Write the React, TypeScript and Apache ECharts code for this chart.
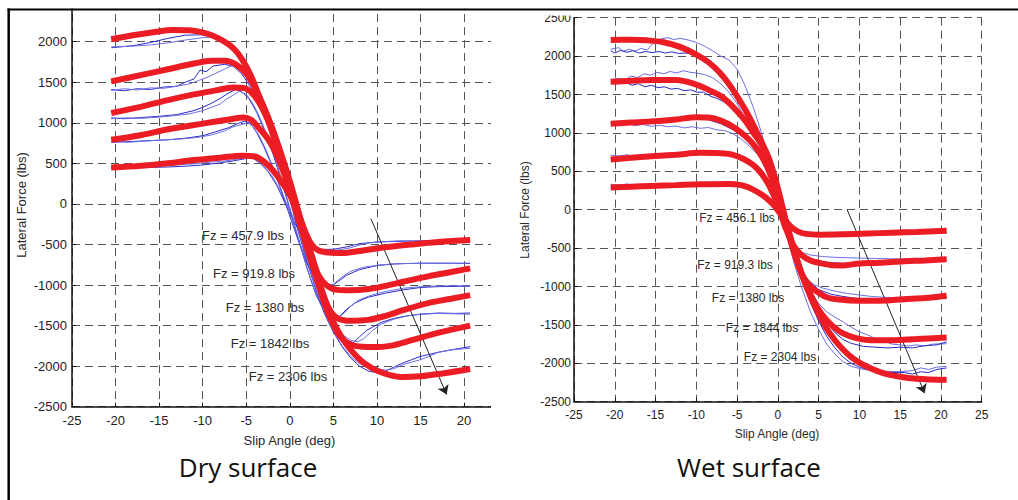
import React, { useEffect, useRef } from "react";
import * as echarts from "echarts";

// ---------- Axis ticks ----------
const xTicks = [-25, -20, -15, -10, -5, 0, 5, 10, 15, 20, 25];
const yTicks = [-2500, -2000, -1500, -1000, -500, 0, 500, 1000, 1500, 2000, 2500];

// ---------- Dry surface: fitted model curves (slip angle deg, lateral force lbs) ----------
const dryFit458 = [[-20.5,450],[-17,470],[-14,500],[-11,540],[-8,570],[-5.5,595],[-4,585],[-3,525],[-2,420],[-1,280],[0,110],[1,-130],[1.8,-350],[2.5,-500],[3.3,-575],[4.5,-600],[6,-605],[8,-580],[11,-535],[14,-500],[17,-470],[20.7,-445]];
const dryFit920 = [[-20.5,790],[-17,850],[-14,920],[-10,990],[-7,1040],[-5.3,1065],[-4.5,1040],[-3.7,955],[-2.5,800],[-1.5,600],[-0.5,330],[0.5,20],[1.5,-290],[2.5,-630],[3.3,-880],[4.3,-1010],[5.5,-1060],[7,-1065],[9,-1050],[11,-1010],[13,-960],[16,-890],[18.5,-840],[20.7,-795]];
const dryFit1380 = [[-20.5,1120],[-17,1200],[-14,1280],[-11,1350],[-8.5,1400],[-6.5,1435],[-5.3,1430],[-4.5,1385],[-3.5,1245],[-2.5,1030],[-1.5,760],[-0.5,420],[0.5,70],[1.5,-290],[2.5,-650],[3.5,-1000],[4.5,-1290],[5.5,-1410],[7,-1440],[9,-1430],[11,-1380],[13,-1310],[16,-1220],[18.5,-1170],[20.7,-1125]];
const dryFit1842 = [[-20.5,1510],[-17,1590],[-14,1660],[-11,1730],[-9,1765],[-7.5,1765],[-6.2,1720],[-5,1605],[-4,1430],[-3,1200],[-2,930],[-1,620],[0,280],[1,-100],[2,-490],[3,-880],[4,-1230],[5,-1490],[6,-1660],[7.5,-1750],[9.5,-1765],[11.5,-1750],[14,-1680],[17,-1590],[20.7,-1500]];
const dryFit2306 = [[-20.5,2030],[-18,2080],[-15.5,2120],[-13.5,2145],[-11.5,2140],[-9.5,2100],[-8,2030],[-6.5,1920],[-5.5,1785],[-4.5,1590],[-3.5,1320],[-2.5,1030],[-1.5,710],[-0.5,340],[0.5,-20],[1.5,-370],[2.5,-720],[3.5,-1050],[4.5,-1330],[5.5,-1560],[6.5,-1730],[7.5,-1860],[8.5,-1960],[10,-2055],[11.5,-2110],[13,-2135],[15,-2125],[17.5,-2090],[20.7,-2035]];

// ---------- Dry surface: measured test runs ----------
const dryTest458a = [[-20.5,440],[-18,445],[-16,450],[-14,455],[-12,465],[-10,480],[-8,505],[-6.5,530],[-5,560],[-4.2,560],[-3.5,510],[-2.5,400],[-1.5,230],[-0.5,0],[0.5,-220],[1.5,-420],[2.5,-530],[3.5,-560],[5,-560],[6.5,-530],[8,-490],[10,-470],[13,-460],[16,-455],[20.7,-450]];
const dryTest458b = [[-20.5,450],[-18,455],[-15.5,465],[-13,480],[-11,495],[-9,515],[-7.5,530],[-6,550],[-5,570],[-4.3,575],[-3.7,540],[-3,470],[-2,340],[-1,150],[0,-80],[1,-300],[2,-470],[3,-550],[4,-575],[5.5,-570],[7,-540],[8.5,-490],[10,-470],[12.5,-455],[15,-455],[18,-450],[20.7,-455]];
const dryTest920a = [[-20.5,760],[-18,770],[-16,780],[-14,790],[-12,810],[-10,840],[-8.5,890],[-7,940],[-6,990],[-5.2,1020],[-4.5,990],[-3.8,880],[-3,710],[-2,460],[-1,170],[0,-150],[1,-460],[2,-740],[3,-930],[4,-1000],[4.8,-1010],[5.5,-960],[6.5,-880],[8,-810],[10,-760],[12,-740],[15,-730],[18,-730],[20.7,-735]];
const dryTest920b = [[-20.5,770],[-18.5,760],[-16.5,775],[-14.5,790],[-12.5,800],[-10.5,820],[-9,850],[-7.5,900],[-6.5,950],[-5.5,980],[-4.8,1000],[-4.2,950],[-3.5,840],[-2.7,660],[-1.8,420],[-0.8,120],[0.2,-190],[1.2,-500],[2.2,-780],[3.2,-950],[4.2,-1000],[5,-990],[6,-900],[7,-830],[8.5,-780],[10.5,-750],[13,-735],[16,-735],[20.7,-730]];
const dryTest1380a = [[-20.5,1060],[-19,1050],[-17,1065],[-15,1080],[-13,1100],[-11,1150],[-10,1190],[-9,1240],[-8,1300],[-7,1370],[-6.2,1410],[-5.5,1380],[-4.7,1300],[-3.8,1130],[-3,930],[-2,640],[-1,300],[0,-60],[1,-440],[2,-800],[3,-1120],[4,-1330],[5,-1400],[5.8,-1380],[6.5,-1300],[7.5,-1220],[9,-1150],[11,-1100],[13,-1060],[15,-1030],[17,-1020],[20.7,-1015]];
const dryTest1380b = [[-20.5,1050],[-19,1060],[-17,1055],[-15,1070],[-13,1090],[-11.5,1110],[-10,1150],[-9,1190],[-8,1230],[-7.3,1290],[-6.5,1340],[-5.8,1390],[-5,1350],[-4.3,1250],[-3.5,1080],[-2.5,820],[-1.5,500],[-0.5,140],[0.5,-240],[1.5,-620],[2.5,-960],[3.5,-1230],[4.5,-1380],[5.3,-1420],[6,-1370],[7,-1260],[8,-1180],[9.5,-1120],[11,-1080],[13,-1040],[15,-1020],[17.5,-1010],[20.7,-1010]];
const dryTest1842a = [[-20.5,1410],[-19,1395],[-17.5,1420],[-16,1410],[-14.5,1440],[-13,1450],[-12,1500],[-11,1540],[-10.3,1650],[-9.6,1630],[-8.8,1700],[-7.5,1720],[-6.5,1700],[-5.5,1600],[-4.5,1440],[-3.5,1230],[-2.5,960],[-1.5,650],[-0.5,290],[0.5,-100],[1.5,-480],[2.5,-840],[3.5,-1150],[4.5,-1400],[5.5,-1570],[6.5,-1680],[7.3,-1710],[8,-1640],[8.8,-1560],[9.5,-1520],[10.5,-1460],[12,-1410],[13.5,-1380],[15,-1360],[17,-1345],[19,-1350],[20.7,-1345]];
const dryTest1842b = [[-20.5,1400],[-19,1420],[-17.5,1405],[-16,1430],[-14.5,1425],[-13,1450],[-11.5,1480],[-10.5,1520],[-9.5,1560],[-8.5,1610],[-7.5,1660],[-6.8,1700],[-6,1690],[-5,1570],[-4,1390],[-3,1160],[-2,880],[-1,560],[0,190],[1,-200],[2,-590],[3,-940],[4,-1240],[5,-1460],[6,-1610],[7,-1680],[7.8,-1700],[8.5,-1660],[9.5,-1560],[10.5,-1480],[12,-1420],[13.5,-1380],[15,-1360],[17,-1350],[19,-1355],[20.7,-1360]];
const dryTest2306a = [[-20.5,1925],[-18,1950],[-16,1990],[-14,2040],[-12,2080],[-10,2085],[-8.5,2050],[-7,1950],[-6,1830],[-5,1650],[-4,1430],[-3,1150],[-2,820],[-1,450],[0,60],[1,-350],[2,-720],[3,-1060],[4,-1360],[5,-1580],[6,-1760],[7,-1900],[8,-2000],[9,-2060],[10,-2080],[11,-2060],[12,-2010],[13,-1960],[14,-1920],[15,-1880],[17,-1830],[19,-1790],[20.7,-1760]];
const dryTest2306b = [[-20.5,1935],[-18,1945],[-16,1960],[-14,1985],[-12,2020],[-10,2050],[-8.5,2060],[-7,1990],[-6,1870],[-5,1690],[-4,1460],[-3,1180],[-2,850],[-1,480],[0,90],[1,-320],[2,-700],[3,-1040],[4,-1340],[5,-1570],[6,-1750],[7,-1880],[8,-1970],[9,-2010],[10,-2030],[11,-2050],[12,-2030],[13,-1980],[14,-1950],[15,-1920],[16,-1880],[17,-1830],[18.5,-1800],[20.7,-1780]];

// ---------- Wet surface: fitted model curves ----------
const wetFit456 = [[-20.5,290],[-18,300],[-15.5,310],[-12.5,320],[-9.5,330],[-6,335],[-4.5,320],[-3.5,285],[-2.5,230],[-1.5,160],[-0.5,60],[0.5,-80],[1.5,-210],[2.5,-285],[3.5,-315],[5,-325],[8,-320],[11,-310],[14,-300],[17,-290],[20.7,-275]];
const wetFit919 = [[-20.5,655],[-18,675],[-15.5,695],[-12.5,715],[-9.5,740],[-7,735],[-5.5,715],[-4.2,660],[-3,580],[-2,470],[-1,300],[0,60],[1,-250],[2,-480],[3,-600],[4,-660],[5,-690],[6.5,-720],[8,-725],[10,-700],[12.5,-690],[15.5,-670],[18,-660],[20.7,-645]];
const wetFit1380 = [[-20.5,1120],[-18,1135],[-15.5,1150],[-12.5,1175],[-10,1205],[-8.5,1200],[-7,1160],[-5.5,1080],[-4,960],[-3,850],[-2,700],[-1,480],[0,180],[1,-200],[2,-560],[3,-850],[4,-1000],[5,-1080],[6,-1140],[7.5,-1170],[10,-1185],[12.5,-1185],[15.5,-1165],[18,-1150],[20.7,-1120]];
const wetFit1844 = [[-20.5,1665],[-18,1680],[-15.5,1690],[-12.5,1690],[-10,1630],[-8.5,1560],[-7,1480],[-5.5,1340],[-4,1160],[-3,1000],[-2,850],[-1,600],[0,250],[1,-170],[2,-540],[3,-860],[4,-1100],[5,-1300],[6,-1440],[7,-1540],[8,-1610],[9.5,-1670],[11.5,-1700],[14,-1700],[17,-1685],[20.7,-1665]];
const wetFit2304 = [[-20.5,2210],[-18,2212],[-16,2205],[-14,2180],[-12,2120],[-10,2020],[-8.5,1920],[-7,1770],[-5.5,1560],[-4,1300],[-3,1100],[-2,880],[-1,640],[0,280],[1,-150],[2,-520],[3,-860],[4,-1130],[5,-1350],[6,-1550],[7,-1700],[8,-1820],[9,-1920],[10,-1990],[11.5,-2070],[13,-2130],[15,-2175],[17,-2200],[20.7,-2215]];

// ---------- Wet surface: measured test runs ----------
const wetTest456a = [[-20.5,330],[-19.5,320],[-18.5,335],[-17,320],[-15.5,330],[-14,320],[-12.5,335],[-11,325],[-9.5,335],[-8,330],[-6.5,335],[-5,325],[-4,300],[-3,250],[-2,180],[-1,90],[0,-30],[1,-170],[2,-260],[3,-300],[4.5,-310],[6,-315],[9,-310],[12,-305],[15,-300],[18,-295],[20.7,-290]];
const wetTest456b = [[-20.5,285],[-17,300],[-14,310],[-11,320],[-8,330],[-6,330],[-4.5,315],[-3.5,280],[-2.5,225],[-1.5,150],[-0.5,50],[0.5,-90],[1.5,-220],[2.5,-290],[3.5,-315],[5,-320],[8,-315],[11,-305],[14,-300],[17,-295],[20.7,-300]];
const wetTest919a = [[-20.5,710],[-19.5,700],[-18.5,715],[-17.5,695],[-16.5,710],[-15.5,700],[-14.5,720],[-13,705],[-11.5,725],[-10,715],[-8.5,730],[-7,715],[-5.5,700],[-4.2,650],[-3,570],[-2,450],[-1,270],[0,20],[1,-260],[2,-470],[3,-560],[4,-590],[5.5,-610],[7,-620],[8.5,-625],[10,-630],[12,-635],[14,-640],[16,-640],[18,-645],[20.7,-645]];
const wetTest919b = [[-20.5,665],[-18,680],[-15.5,690],[-12.5,710],[-9.5,735],[-7,730],[-5.5,705],[-4.2,650],[-3,570],[-2,460],[-1,290],[0,50],[1,-240],[2,-470],[3,-580],[4,-640],[5,-670],[6.5,-690],[8,-700],[10,-690],[12.5,-680],[15.5,-665],[18,-655],[20.7,-650]];
const wetTest1380a = [[-20.5,1130],[-19.5,1110],[-18.5,1125],[-17.5,1095],[-16.5,1110],[-15.5,1085],[-14.5,1100],[-13.5,1080],[-12.5,1090],[-11.5,1065],[-10.5,1080],[-9.5,1060],[-8.5,1070],[-7.5,1040],[-6.5,1030],[-5.5,990],[-4.5,920],[-3.5,830],[-2.5,720],[-1.5,580],[-0.5,340],[0.5,0],[1.5,-380],[2.5,-700],[3.5,-900],[4.5,-980],[5.5,-1020],[7,-1060],[8.5,-1090],[10,-1110],[11.5,-1130],[13,-1140],[14.5,-1145],[16,-1135],[17.5,-1150],[19,-1140],[20.7,-1160]];
const wetTest1380b = [[-20.5,1120],[-19,1130],[-17.5,1140],[-16,1150],[-14.5,1160],[-13,1175],[-11.5,1185],[-10,1190],[-8.5,1170],[-7,1120],[-5.5,1040],[-4,930],[-3,830],[-2,690],[-1,470],[0,170],[1,-200],[2,-550],[3,-820],[4,-950],[5,-1040],[6.5,-1100],[8,-1130],[10,-1160],[12,-1170],[14,-1160],[16,-1155],[18,-1165],[20.7,-1140]];
const wetTest1844a = [[-20.5,1690],[-19.5,1710],[-18.7,1690],[-18,1740],[-17.2,1720],[-16.4,1770],[-15.6,1750],[-14.8,1790],[-14,1770],[-13.2,1800],[-12.4,1780],[-11.6,1810],[-10.8,1790],[-10,1780],[-9,1760],[-8,1720],[-7,1640],[-6,1530],[-5,1380],[-4,1190],[-3,980],[-2,760],[-1,480],[0,140],[1,-250],[2,-610],[3,-880],[4,-1060],[5,-1220],[6,-1330],[7,-1400],[8,-1460],[9,-1530],[10,-1590],[11,-1630],[12,-1680],[13,-1710],[14,-1750],[15,-1760],[16,-1775],[17,-1760],[18,-1775],[19,-1750],[20.7,-1745]];
const wetTest1844b = [[-20.5,1650],[-19.5,1640],[-18.7,1660],[-17.9,1620],[-17.1,1640],[-16.3,1600],[-15.5,1620],[-14.7,1590],[-13.9,1600],[-13.1,1570],[-12.3,1580],[-11.5,1550],[-10.7,1560],[-9.9,1530],[-9.1,1530],[-8.3,1480],[-7.5,1450],[-6.7,1410],[-6,1360],[-5,1260],[-4,1110],[-3,960],[-2,800],[-1,560],[0,220],[1,-190],[2,-560],[3,-880],[4,-1130],[5,-1330],[6,-1480],[7,-1600],[8,-1690],[9,-1740],[10.5,-1780],[12,-1790],[13.5,-1800],[15,-1790],[16.5,-1800],[18,-1770],[19.5,-1760],[20.7,-1720]];
const wetTest2304a = [[-20.5,2090],[-19.5,2110],[-19,2060],[-18.3,2090],[-17.5,2065],[-16.8,2100],[-16,2080],[-15.3,2170],[-14.5,2220],[-13.5,2240],[-12.8,2215],[-12,2230],[-11,2210],[-10,2180],[-9,2130],[-8,2070],[-7,2000],[-6,1950],[-5,1830],[-4,1610],[-3,1330],[-2,1000],[-1,600],[0,170],[1,-290],[2,-700],[3,-1040],[4,-1330],[5,-1560],[6,-1750],[7,-1880],[8,-1980],[9,-2040],[10.5,-2080],[12,-2100],[13.5,-2105],[15,-2110],[16.5,-2095],[17.5,-2060],[18.5,-2080],[19.5,-2050],[20.7,-2040]];
const wetTest2304b = [[-20.5,2070],[-20,2040],[-19.3,2075],[-18.5,2050],[-17.8,2070],[-17,2040],[-16.2,2060],[-15.4,2045],[-14.6,2060],[-13.8,2040],[-13,2055],[-12.2,2035],[-11.4,2040],[-10.5,2030],[-9.7,2005],[-9,1980],[-8,1900],[-7,1780],[-6,1620],[-5,1470],[-4,1290],[-3,1090],[-2,870],[-1,620],[0,250],[1,-180],[2,-570],[3,-920],[4,-1210],[5,-1450],[6,-1650],[7,-1800],[8,-1920],[9,-2000],[10,-2050],[11,-2080],[12.5,-2110],[14,-2120],[15.5,-2120],[16.5,-2140],[17.5,-2110],[18.5,-2120],[19.5,-2080],[20.7,-2060]];

// ---------- Annotation labels ----------
const dryLoads = ["Fz = 457.9 lbs", "Fz = 919.8 lbs", "Fz = 1380 lbs", "Fz = 1842 lbs", "Fz = 2306 lbs"];
const wetLoads = ["Fz = 456.1 lbs", "Fz = 919.3 lbs", "Fz = 1380 lbs", "Fz = 1844 lbs", "Fz = 2304 lbs"];
// Trend arrow for increasing normal load (start, end) in data units
const dryArrow = [[9.3, -180], [18.0, -2350]];
const wetArrow = [[8.5, 0], [18.0, -2390]];

const RED = "#ec1c24";
const BLUE_DARK = "#2a2ac8";
const BLUE_LIGHT = "#6e6ee0";
const GRID_COLOR = "#555";
const AXIS_FONT = "Liberation Sans";

function fitSeries(data: number[][], idx: number) {
  return {
    type: "line",
    xAxisIndex: idx,
    yAxisIndex: idx,
    data,
    symbol: "none",
    smooth: 0.35,
    lineStyle: { color: RED, width: 6 },
    z: 5,
  };
}

function testSeries(data: number[][], idx: number, color: string) {
  return {
    type: "line",
    xAxisIndex: idx,
    yAxisIndex: idx,
    data,
    symbol: "none",
    lineStyle: { color, width: 1 },
    z: 3,
  };
}

function arrowSeries(pts: number[][], idx: number) {
  return {
    type: "line",
    xAxisIndex: idx,
    yAxisIndex: idx,
    data: [],
    symbol: "none",
    z: 6,
    markLine: {
      silent: true,
      symbol: ["none", "arrow"],
      symbolSize: 9,
      label: { show: false },
      itemStyle: { color: "#222" },
      lineStyle: { color: "#222", type: "solid", width: 1 },
      data: [[{ coord: pts[0], symbol: "none" }, { coord: pts[1], symbol: "arrow", symbolSize: 9 }]],
    },
  };
}

const fmt = (v: number) => String(v);

function xAxisCfg(idx: number, fontSize: number, margin: number) {
  return {
    gridIndex: idx,
    type: "value",
    min: xTicks[0],
    max: xTicks[xTicks.length - 1],
    interval: 5,
    axisLine: { show: true, onZero: false, lineStyle: { color: "#111", width: 1.5 } },
    axisTick: { show: true, inside: true, length: 4, lineStyle: { color: "#111" } },
    axisLabel: { color: "#222", fontSize, fontFamily: AXIS_FONT, margin, formatter: fmt },
    splitLine: { show: true, lineStyle: { color: GRID_COLOR, type: [8, 5], width: 1 } },
  };
}

function yAxisCfg(idx: number, fontSize: number, margin: number, showMax: boolean) {
  return {
    gridIndex: idx,
    type: "value",
    min: yTicks[0],
    max: yTicks[yTicks.length - 1],
    interval: 500,
    axisLine: { show: true, onZero: false, lineStyle: { color: "#111", width: 1.5 } },
    axisTick: { show: true, inside: true, length: 4, lineStyle: { color: "#111" } },
    axisLabel: { color: "#222", fontSize, fontFamily: AXIS_FONT, margin, formatter: fmt, showMaxLabel: showMax },
    splitLine: { show: true, lineStyle: { color: GRID_COLOR, type: [8, 5], width: 1 } },
  };
}

function label(text: string, x: number, y: number, size: number) {
  return {
    type: "text",
    x,
    y,
    z: 50,
    style: {
      text,
      fill: "#2a2a2a",
      fontSize: size,
      fontFamily: AXIS_FONT,
      align: "center",
      verticalAlign: "middle",
    },
  };
}

export default function App() {
  const ref = useRef<HTMLDivElement>(null);

  useEffect(() => {
    if (!ref.current) return;
    const chart = echarts.init(ref.current, undefined, { renderer: "svg" });

    const dryLabelPos = [[243, 235], [254, 273], [265, 307], [270, 343], [288, 376]];
    const wetLabelPos = [[737, 218], [735, 265], [748, 298], [762, 328], [780, 357]];

    const option = {
      animation: false,
      backgroundColor: "#fff",
      grid: [
        { left: 72, right: 510.4, top: 1.1, bottom: 93.3 },
        { left: 574, right: 36.3, top: 17.7, bottom: 98.3 },
      ],
      xAxis: [xAxisCfg(0, 13, 7), xAxisCfg(1, 12, 7)],
      yAxis: [yAxisCfg(0, 13, 5, false), yAxisCfg(1, 12, 3, true)],
      series: [
        testSeries(dryTest458a, 0, BLUE_DARK),
        testSeries(dryTest458b, 0, BLUE_LIGHT),
        testSeries(dryTest920a, 0, BLUE_DARK),
        testSeries(dryTest920b, 0, BLUE_LIGHT),
        testSeries(dryTest1380a, 0, BLUE_DARK),
        testSeries(dryTest1380b, 0, BLUE_LIGHT),
        testSeries(dryTest1842a, 0, BLUE_DARK),
        testSeries(dryTest1842b, 0, BLUE_LIGHT),
        testSeries(dryTest2306a, 0, BLUE_DARK),
        testSeries(dryTest2306b, 0, BLUE_LIGHT),
        fitSeries(dryFit458, 0),
        fitSeries(dryFit920, 0),
        fitSeries(dryFit1380, 0),
        fitSeries(dryFit1842, 0),
        fitSeries(dryFit2306, 0),
        arrowSeries(dryArrow, 0),

        testSeries(wetTest456a, 1, BLUE_LIGHT),
        testSeries(wetTest456b, 1, BLUE_DARK),
        testSeries(wetTest919a, 1, BLUE_LIGHT),
        testSeries(wetTest919b, 1, BLUE_DARK),
        testSeries(wetTest1380a, 1, BLUE_LIGHT),
        testSeries(wetTest1380b, 1, BLUE_DARK),
        testSeries(wetTest1844a, 1, BLUE_LIGHT),
        testSeries(wetTest1844b, 1, BLUE_DARK),
        testSeries(wetTest2304a, 1, BLUE_LIGHT),
        testSeries(wetTest2304b, 1, BLUE_DARK),
        fitSeries(wetFit456, 1),
        fitSeries(wetFit919, 1),
        fitSeries(wetFit1380, 1),
        fitSeries(wetFit1844, 1),
        fitSeries(wetFit2304, 1),
        arrowSeries(wetArrow, 1),
      ],
      graphic: [
        // page framing: blank margins and the black border on top and left
        { type: "rect", z: 90, shape: { x: 0, y: 0, width: 1018, height: 8.5 }, style: { fill: "#fff" } },
        { type: "rect", z: 90, shape: { x: 491, y: 8, width: 26, height: 440 }, style: { fill: "#fff" } },
        { type: "rect", z: 90, shape: { x: 530, y: 8, width: 42, height: 7.5 }, style: { fill: "#fff" } },
        { type: "rect", z: 90, shape: { x: 0, y: 0, width: 7.5, height: 500 }, style: { fill: "#fff" } },
        { type: "line", z: 95, shape: { x1: 7.5, y1: 9.5, x2: 1018, y2: 9.5 }, style: { stroke: "#000", lineWidth: 2 } },
        { type: "line", z: 95, shape: { x1: 8.7, y1: 8.5, x2: 8.7, y2: 500 }, style: { stroke: "#000", lineWidth: 2.5 } },

        // axis titles
        {
          type: "text", x: 21, y: 205, rotation: Math.PI / 2, z: 50,
          style: { text: "Lateral Force (lbs)", fill: "#2a2a2a", fontSize: 13, fontFamily: AXIS_FONT, align: "center", verticalAlign: "middle" },
        },
        {
          type: "text", x: 525, y: 210, rotation: Math.PI / 2, z: 50,
          style: { text: "Lateral Force (lbs)", fill: "#2a2a2a", fontSize: 12, fontFamily: AXIS_FONT, align: "center", verticalAlign: "middle" },
        },
        label("Slip Angle (deg)", 289.5, 440, 13),
        label("Slip Angle (deg)", 777, 434, 12),

        // load labels
        ...dryLoads.map((t, i) => label(t, dryLabelPos[i][0], dryLabelPos[i][1], 13)),
        ...wetLoads.map((t, i) => label(t, wetLabelPos[i][0], wetLabelPos[i][1], 12)),

        // panel captions
        {
          type: "text", x: 248, y: 467, z: 50,
          style: { text: "Dry surface", fill: "#111", fontSize: 26, fontFamily: "Open Sans", align: "center", verticalAlign: "middle" },
        },
        {
          type: "text", x: 749, y: 467, z: 50,
          style: { text: "Wet surface", fill: "#111", fontSize: 26, fontFamily: "Open Sans", align: "center", verticalAlign: "middle" },
        },
      ],
    };

    chart.setOption(option as any);
    return () => chart.dispose();
  }, []);

  return (
    <div
      ref={ref}
      style={{ position: "absolute", left: 0, top: 0, width: 1018, height: 500, background: "#fff" }}
    />
  );
}
